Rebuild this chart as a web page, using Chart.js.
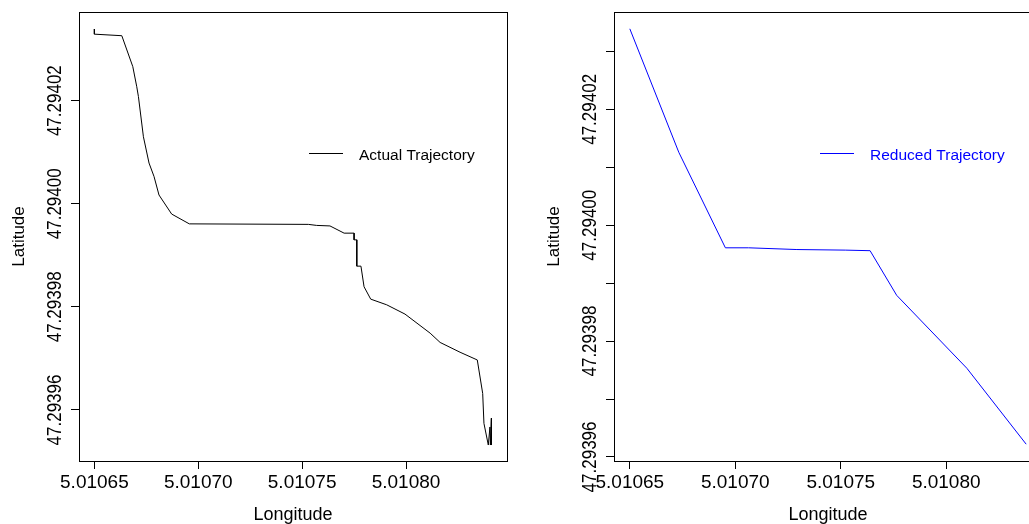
<!DOCTYPE html>
<html>
<head>
<meta charset="utf-8">
<script src="https://cdn.jsdelivr.net/npm/chart.js@4.4.1/dist/chart.umd.min.js"></script>
<style>
  html, body { margin: 0; padding: 0; background: #fff; overflow: hidden; width: 1029px; height: 524px; }
  .panel { position: absolute; top: 0; width: 520px; height: 524px; }
  #left { left: 0; }
  #right { left: 535px; }
</style>
</head>
<body>
<div class="panel" id="left"><canvas id="chartLeft"></canvas></div>
<div class="panel" id="right"><canvas id="chartRight"></canvas></div>
<script>
// actual trajectory (left)
const actualLon = [5.0106500, 5.0106500, 5.0106632, 5.0106685, 5.0106704, 5.0106712, 5.0106736, 5.0106763,
  5.0106787, 5.0106811, 5.0106872, 5.0106957, 5.0107530, 5.0107570, 5.0107634, 5.0107702, 5.0107750,
  5.0107750, 5.0107763, 5.0107763, 5.0107783, 5.0107798, 5.0107830, 5.0107907, 5.0107995, 5.0108116,
  5.0108164, 5.0108260, 5.0108343, 5.0108369, 5.0108375, 5.0108396, 5.0108404, 5.0108406, 5.0108411, 5.0108411];
const actualLat = [47.2940339, 47.2940329, 47.2940326, 47.2940266, 47.2940227, 47.2940208, 47.2940130, 47.2940079,
  47.2940053, 47.2940017, 47.2939980, 47.2939961, 47.2939960, 47.2939958, 47.2939957, 47.2939943, 47.2939943,
  47.2939930, 47.2939930, 47.2939879, 47.2939879, 47.2939839, 47.2939815, 47.2939804, 47.2939786, 47.2939749,
  47.2939731, 47.2939712, 47.2939697, 47.2939632, 47.2939574, 47.2939532, 47.2939567, 47.2939532, 47.2939584, 47.2939532];

// reduced trajectory (right)
const reducedLon = [5.0106500, 5.0106732, 5.0106953, 5.0107063, 5.0107292, 5.0107521, 5.0107639, 5.0107765, 5.0108098, 5.0108379];
const reducedLat = [47.2940339, 47.2940126, 47.2939961, 47.2939961, 47.2939958, 47.2939957, 47.2939956, 47.2939879, 47.2939753, 47.2939622];

// ticks
const lonTicks = [5.01065, 5.01070, 5.01075, 5.01080];
const latTicksActual = [47.29396, 47.29398, 47.29400, 47.29402];
const latTicksReduced = [47.29396, 47.29397, 47.29398, 47.29399, 47.29400, 47.29401, 47.29402, 47.29403];
const latLabels = [47.29396, 47.29398, 47.29400, 47.29402];

// axis limits (R style, data range + 4%)
const lonLimActual = [5.0106426, 5.0108486];
const latLimActual = [47.2939501, 47.2940372];
const lonLimReduced = [5.0106425, 5.0108454];
const latLimReduced = [47.2939593, 47.2940368];

const FONT = "'Liberation Sans', Arial, sans-serif";

// box, rotated y labels and the little legend, like base R
const rStyle = {
  id: 'rStyle',
  afterDraw(chart, args, opts) {
    const { ctx, chartArea: a, scales } = chart;
    ctx.save();
    ctx.strokeStyle = '#000';
    ctx.lineWidth = 1;
    ctx.strokeRect(Math.round(a.left) + 0.5, Math.round(a.top) + 0.5,
      Math.round(a.right - a.left), Math.round(a.bottom - a.top));

    ctx.fillStyle = '#000';
    ctx.font = '17px ' + FONT;
    ctx.textAlign = 'center';
    ctx.textBaseline = 'alphabetic';
    latLabels.forEach(v => {
      const y = scales.y.getPixelForValue(v);
      ctx.save();
      ctx.translate(a.left - 18, y);
      ctx.rotate(-Math.PI / 2);
      ctx.scale(1, 1.18);
      ctx.fillText(v.toFixed(5), 0, 0);
      ctx.restore();
    });

    const ds = chart.data.datasets[0];
    const lx = opts.legendX, ly = opts.legendY;
    ctx.strokeStyle = ds.borderColor;
    ctx.beginPath();
    ctx.moveTo(lx, ly + 0.5);
    ctx.lineTo(lx + 34, ly + 0.5);
    ctx.stroke();
    ctx.fillStyle = ds.borderColor;
    ctx.font = '15.5px ' + FONT;
    ctx.textAlign = 'left';
    ctx.fillText(ds.label, lx + 50, ly + 7);
    ctx.restore();
  }
};

function makeChart(id, lon, lat, lonLim, latLim, latTicks, color, label, legendX) {
  return new Chart(document.getElementById(id), {
    type: 'line',
    plugins: [rStyle],
    data: {
      datasets: [{
        label: label,
        data: lon.map((x, i) => ({ x: x, y: lat[i] })),
        borderColor: color,
        borderWidth: 1,
        pointRadius: 0,
        tension: 0,
        fill: false
      }]
    },
    options: {
      responsive: true,
      maintainAspectRatio: false,
      animation: false,
      layout: { padding: { top: 12, right: 13, left: 0, bottom: 0 } },
      plugins: {
        legend: { display: false },
        tooltip: { enabled: false },
        rStyle: { legendX: legendX, legendY: 153 }
      },
      scales: {
        x: {
          type: 'linear',
          min: lonLim[0],
          max: lonLim[1],
          afterBuildTicks: s => { s.ticks = lonTicks.map(v => ({ value: v })); },
          afterFit: s => { s.height = 63; },
          border: { display: false },
          grid: { drawOnChartArea: false, drawTicks: true, tickLength: 8, color: '#000' },
          ticks: {
            autoSkip: false, maxRotation: 0, minRotation: 0, padding: 2, color: '#000',
            font: { family: FONT, size: 19 },
            callback: v => v.toFixed(5)
          },
          title: {
            display: true, text: 'Longitude', color: '#000',
            font: { family: FONT, size: 18, lineHeight: 1 }, padding: 0
          }
        },
        y: {
          type: 'linear',
          min: latLim[0],
          max: latLim[1],
          afterBuildTicks: s => { s.ticks = latTicks.map(v => ({ value: v })); },
          afterFit: s => { s.width = 79; },
          border: { display: false },
          grid: { drawOnChartArea: false, drawTicks: true, tickLength: 8, color: '#000' },
          ticks: { display: false },
          title: {
            display: true, text: 'Latitude', color: '#000',
            font: { family: FONT, size: 17, lineHeight: 1 }, padding: { top: 10.5, bottom: 0 }
          }
        }
      }
    }
  });
}

makeChart('chartLeft', actualLon, actualLat, lonLimActual, latLimActual, latTicksActual,
  '#000000', 'Actual Trajectory', 309);
makeChart('chartRight', reducedLon, reducedLat, lonLimReduced, latLimReduced, latTicksReduced,
  '#0000ff', 'Reduced Trajectory', 285);
</script>
</body>
</html>
